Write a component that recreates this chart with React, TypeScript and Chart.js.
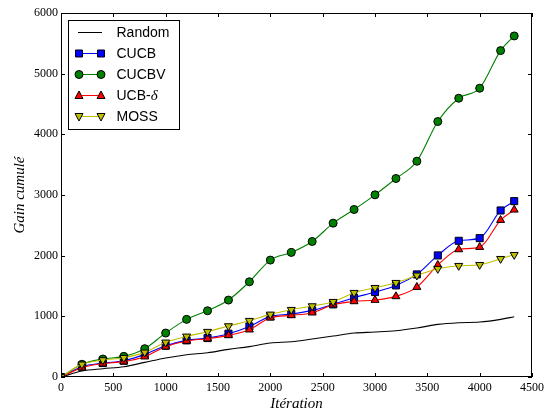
import React, { useEffect, useRef } from 'react';
import { Chart, registerables } from 'chart.js';

Chart.register(...registerables);

// Iteration counts at which the cumulative gain was sampled
const iterations = [0, 200, 400, 600, 800, 1000, 1200, 1400, 1600, 1800, 2000, 2200, 2400, 2600, 2800, 3000, 3200, 3400, 3600, 3800, 4000, 4200, 4330];

// Cumulative gain per policy
const randomGain = [0, 99, 137, 170, 241, 313, 368, 400, 456, 500, 560, 582, 626, 675, 725, 741, 763, 807, 867, 895, 906, 950, 994];
const cucbGain = [0, 170, 230, 269, 373, 516, 604, 642, 714, 834, 999, 1038, 1098, 1197, 1307, 1400, 1510, 1691, 2004, 2245, 2289, 2745, 2899];
const cucbvGain = [0, 210, 296, 340, 467, 725, 950, 1092, 1268, 1570, 1927, 2053, 2234, 2536, 2761, 3003, 3272, 3557, 4211, 4595, 4760, 5380, 5622];
const ucbDeltaGain = [0, 154, 220, 253, 335, 500, 593, 631, 686, 780, 977, 1016, 1060, 1191, 1246, 1268, 1329, 1482, 1845, 2103, 2141, 2586, 2756];
const mossGain = [0, 209, 280, 318, 406, 571, 670, 747, 840, 928, 1032, 1109, 1169, 1241, 1389, 1471, 1554, 1675, 1785, 1834, 1850, 1949, 2015];

const xTicks = [0, 500, 1000, 1500, 2000, 2500, 3000, 3500, 4000, 4500];
const yTicks = [0, 1000, 2000, 3000, 4000, 5000, 6000];

type Marker = 'none' | 'square' | 'circle' | 'triangle' | 'triangleDown';

interface Series {
  label: string;
  values: number[];
  color: string;
  marker: Marker;
}

const series: Series[] = [
  { label: 'Random', values: randomGain, color: '#000000', marker: 'none' },
  { label: 'CUCB', values: cucbGain, color: '#0000ff', marker: 'square' },
  { label: 'CUCBV', values: cucbvGain, color: '#008000', marker: 'circle' },
  { label: 'UCB-δ', values: ucbDeltaGain, color: '#ff0000', marker: 'triangle' },
  { label: 'MOSS', values: mossGain, color: '#bfbf00', marker: 'triangleDown' },
];

const SERIF = '"Liberation Serif", "DejaVu Serif", serif';
const SANS = '"Liberation Sans", Arial, sans-serif';

function drawMarker(ctx: CanvasRenderingContext2D, marker: Marker, x: number, y: number, fill: string) {
  if (marker === 'none') return;
  ctx.save();
  ctx.fillStyle = fill;
  ctx.strokeStyle = '#000000';
  ctx.lineWidth = 1;
  ctx.beginPath();
  if (marker === 'square') {
    ctx.rect(x - 3.5, y - 3.5, 7, 7);
  } else if (marker === 'circle') {
    ctx.arc(x, y, 4, 0, Math.PI * 2);
  } else if (marker === 'triangle') {
    ctx.moveTo(x, y - 4.5);
    ctx.lineTo(x + 4, y + 3);
    ctx.lineTo(x - 4, y + 3);
    ctx.closePath();
  } else {
    ctx.moveTo(x, y + 4.5);
    ctx.lineTo(x + 4, y - 3);
    ctx.lineTo(x - 4, y - 3);
    ctx.closePath();
  }
  ctx.fill();
  ctx.stroke();
  ctx.restore();
}

// Frame, inward ticks on all four sides, axis titles and the boxed legend
const decorPlugin = {
  id: 'decor',
  afterDatasetsDraw(chart: any) {
    const ctx: CanvasRenderingContext2D = chart.ctx;
    const { left, right, top, bottom } = chart.chartArea;
    const xs = chart.scales.x;
    const ys = chart.scales.y;
    ctx.save();
    ctx.strokeStyle = '#000000';
    ctx.lineWidth = 1;
    ctx.strokeRect(Math.round(left) + 0.5, Math.round(top) + 0.5, Math.round(right - left) - 1, Math.round(bottom - top) - 1);
    const tl = 4;
    ctx.beginPath();
    for (const v of xTicks) {
      const px = Math.round(xs.getPixelForValue(v)) + 0.5;
      ctx.moveTo(px, bottom);
      ctx.lineTo(px, bottom - tl);
      ctx.moveTo(px, top);
      ctx.lineTo(px, top + tl);
    }
    for (const v of yTicks) {
      const py = Math.round(ys.getPixelForValue(v)) + 0.5;
      ctx.moveTo(left, py);
      ctx.lineTo(left + tl, py);
      ctx.moveTo(right, py);
      ctx.lineTo(right - tl, py);
    }
    ctx.stroke();

    // Axis titles
    ctx.fillStyle = '#000000';
    ctx.font = `italic 15px ${SERIF}`;
    ctx.textAlign = 'center';
    ctx.textBaseline = 'middle';
    ctx.fillText('Itération', (left + right) / 2, 404);
    ctx.save();
    ctx.translate(20, (top + bottom) / 2);
    ctx.rotate(-Math.PI / 2);
    ctx.fillText('Gain cumulé', 0, 0);
    ctx.restore();

    // Legend
    const bx = 68.5, by = 20.5, bw = 111, bh = 109;
    ctx.fillStyle = '#ffffff';
    ctx.fillRect(bx, by, bw, bh);
    ctx.strokeStyle = '#000000';
    ctx.lineWidth = 1;
    ctx.strokeRect(bx, by, bw, bh);
    const rowY0 = 32.5;
    const rowStep = 21;
    const h1 = 79, h2 = 101, tx = 116.5;
    series.forEach((s, i) => {
      const y = rowY0 + i * rowStep;
      ctx.strokeStyle = s.color;
      ctx.lineWidth = 1;
      ctx.beginPath();
      ctx.moveTo(s.marker === 'none' ? 78 : h1, y);
      ctx.lineTo(s.marker === 'none' ? 102 : h2, y);
      ctx.stroke();
      drawMarker(ctx, s.marker, h1, y, s.color);
      drawMarker(ctx, s.marker, h2, y, s.color);
      ctx.fillStyle = '#000000';
      ctx.textAlign = 'left';
      ctx.textBaseline = 'middle';
      if (s.label === 'UCB-δ') {
        ctx.font = `14px ${SANS}`;
        ctx.fillText('UCB-', tx, y + 1);
        const w = ctx.measureText('UCB-').width;
        ctx.font = `italic 15px ${SERIF}`;
        ctx.fillText('δ', tx + w, y + 1);
      } else {
        ctx.font = `14px ${SANS}`;
        ctx.fillText(s.label, tx, y + 1);
      }
    });
    ctx.restore();
  },
};

const pointStyleFor = (m: Marker) => (m === 'square' ? 'rect' : m === 'circle' ? 'circle' : m === 'none' ? false : 'triangle');
const pointRadiusFor = (m: Marker) => (m === 'square' ? 5 : m === 'circle' ? 4 : m === 'none' ? 0 : 4.6);

export default function App() {
  const canvasRef = useRef<HTMLCanvasElement | null>(null);

  useEffect(() => {
    if (!canvasRef.current) return;
    const datasets = series.map((s, i) => ({
      label: s.label,
      data: iterations.map((x, j) => ({ x, y: s.values[j] })),
      borderColor: s.color,
      backgroundColor: s.color,
      borderWidth: 1.1,
      pointStyle: pointStyleFor(s.marker) as any,
      pointRadius: pointRadiusFor(s.marker),
      pointRotation: s.marker === 'triangleDown' ? 180 : 0,
      pointBorderColor: '#000000',
      pointBorderWidth: 1,
      pointBackgroundColor: s.color,
      cubicInterpolationMode: 'monotone' as const,
      order: series.length - i,
    }));

    const plainLabel = (v: any) => String(v);

    const chart = new Chart(canvasRef.current, {
      type: 'line',
      data: { datasets },
      options: {
        animation: false,
        responsive: false,
        devicePixelRatio: 1,
        events: [],
        layout: { padding: { top: 13, right: 16, left: 0, bottom: 0 } },
        plugins: { legend: { display: false }, tooltip: { enabled: false } },
        scales: {
          x: {
            type: 'linear',
            min: 0,
            max: 4500,
            afterFit: (scale: any) => { scale.height = 38; },
            afterBuildTicks: (scale: any) => { scale.ticks = xTicks.map((v) => ({ value: v })); },
            grid: { display: false, drawTicks: false },
            border: { display: false },
            ticks: { padding: 4, color: '#000000', font: { family: SERIF, size: 12 }, callback: plainLabel },
          },
          y: {
            type: 'linear',
            min: 0,
            max: 6000,
            afterFit: (scale: any) => { scale.width = 61; },
            afterBuildTicks: (scale: any) => { scale.ticks = yTicks.map((v) => ({ value: v })); },
            grid: { display: false, drawTicks: false },
            border: { display: false },
            ticks: { padding: 3, color: '#000000', font: { family: SERIF, size: 12 }, callback: plainLabel },
          },
        },
      },
      plugins: [decorPlugin],
    });
    return () => chart.destroy();
  }, []);

  return (
    <div style={{ position: 'fixed', left: 0, top: 0, width: 548, height: 415, background: '#ffffff' }}>
      <canvas ref={canvasRef} width={548} height={415} style={{ display: 'block' }} />
    </div>
  );
}
